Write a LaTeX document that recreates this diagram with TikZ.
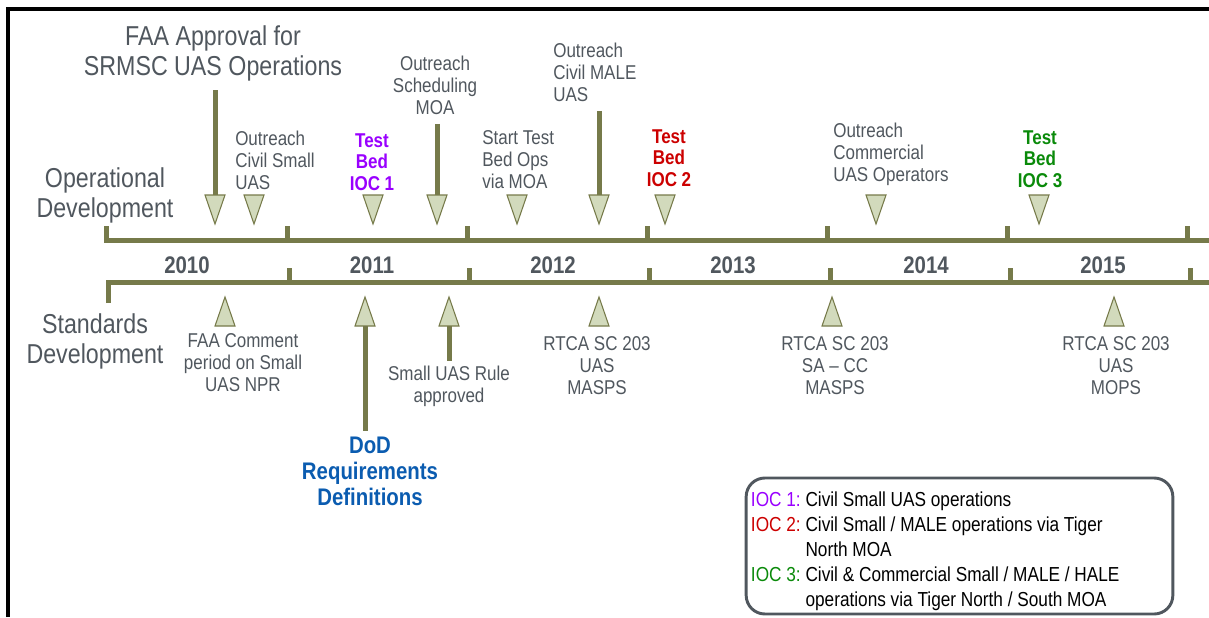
\documentclass[tikz,border=0pt]{standalone}
\usepackage{fontspec}
\setmainfont{Liberation Sans}[FakeStretch=0.85]
\usepackage{xcolor}
\definecolor{lineolive}{HTML}{767A4A}
\definecolor{trigreen}{HTML}{D2DABC}
\definecolor{txtgray}{HTML}{50575E}
\definecolor{iocpurple}{HTML}{9900FF}
\definecolor{iocred}{HTML}{CC0000}
\definecolor{iocgreen}{HTML}{0A8A0A}
\definecolor{dodblue}{HTML}{0B5CB0}
\definecolor{legframe}{HTML}{50575E}
\newcommand{\labfont}{\fontsize{20.5}{22.5}\selectfont}
\newcommand{\evtfont}{\fontsize{15}{16.5}\selectfont}
\newcommand{\iocfont}{\fontsize{15}{16.2}\selectfont\bfseries}
\newcommand{\yrfont}{\fontsize{18}{20}\selectfont\bfseries}
\newcommand{\dodfont}{\fontsize{18}{19.5}\selectfont\bfseries}
\newcommand{\legfont}{\fontsize{15.2}{18.75}\selectfont}

\begin{document}
\begin{tikzpicture}[x=0.75pt, y=-0.75pt,
    axisline/.style={draw=lineolive, line width=3.75pt, line join=miter},
    trifill/.style={draw=lineolive, fill=trigreen, line width=0.8pt},
    stem/.style={draw=lineolive, line width=3.75pt, shorten <=7pt},
    evt/.style={inner sep=0pt, text=txtgray, font=\evtfont, align=center},
    evtleft/.style={evt, anchor=west, align=left},
    biglab/.style={inner sep=0pt, text=txtgray, font=\labfont, align=center},
    ioc/.style={inner sep=0pt, font=\iocfont, align=center},
    pics/dnmark/.style={code={
        \draw[trifill] (-10,-29) -- (10,-29) -- (0,0) -- cycle;
        \coordinate (-base) at (0,-29);}},
    pics/upmark/.style={code={
        \draw[trifill] (-10,29) -- (10,29) -- (0,0) -- cycle;
        \coordinate (-base) at (0,29);}}]
    \useasboundingbox (0,0) rectangle (1209,617);
    % frame
    \draw[line width=3pt] (8,617) -- (8,9) -- (1209,9);

    % the two time lines
    \draw[axisline] (106,226) -- (106,240) -- (1209,240);
    \foreach \tx in {287,467,647,827,1007,1187}
        \draw[axisline] (\tx,240) -- (\tx,226);
    \draw[axisline] (108,303) -- (108,282) -- (1209,282);
    \foreach \tx in {289,469,649,830,1010,1190}
        \draw[axisline] (\tx,282) -- (\tx,268);
    \foreach \yr/\xc in {2010/187,2011/372,2012/553,2013/733,2014/926,2015/1103}
        \node[inner sep=0pt, text=txtgray, font=\yrfont] (y\yr) at (\xc,265) {\yr};

    \node[biglab] (opdev) at (105,195) {Operational\\Development};
    \node[biglab] (stdev) at (95,341) {Standards\\Development};

    % operational events
    \node[biglab] (faa) at (213,53) {FAA Approval for\\SRMSC UAS Operations};
    \node[evtleft] (ocs) at (235,160) {Outreach\\Civil Small\\UAS};
    \node[ioc, text=iocpurple] (ioc1) at (372,162) {Test\\Bed\\IOC 1};
    \node[evt] (osm) at (435,85) {Outreach\\Scheduling\\MOA};
    \node[evtleft] (stb) at (482,160) {Start Test\\Bed Ops\\via MOA};
    \node[evtleft] (ocm) at (553,72) {Outreach\\Civil MALE\\UAS};
    \node[ioc, text=iocred] (ioc2) at (669,158) {Test\\Bed\\IOC 2};
    \node[evtleft] (occ) at (833,154) {Outreach\\Commercial\\UAS Operators};
    \node[ioc, text=iocgreen] (ioc3) at (1040,159) {Test\\Bed\\IOC 3};

    \foreach \mx [count=\i] in {215,254,373,437,517,599,665,876,1039}
        \pic (d\i) at (\mx,224) {dnmark};
    \draw[stem] (faa.south -| d1-base) -- (d1-base);
    \draw[stem] (osm.south -| d4-base) -- (d4-base);
    \draw[stem] (ocm.south -| d6-base) -- (d6-base);

    % standards events
    \foreach \mx [count=\i] in {225,365,449,599,832,1114}
        \pic (u\i) at (\mx,297) {upmark};
    \node[evt] (fcp) at (243,363) {FAA Comment\\period on Small\\UAS NPR};
    \node[inner sep=0pt, text=dodblue, font=\dodfont, align=center] (dod) at (370,471) {DoD\\Requirements\\Definitions};
    \node[evt] (sur) at (449,386) {Small UAS Rule\\approved};
    \node[evt] (rtca1) at (597,366) {RTCA SC 203\\UAS\\MASPS};
    \node[evt] (rtca2) at (835,366) {RTCA SC 203\\SA -- CC\\MASPS};
    \node[evt] (rtca3) at (1116,366) {RTCA SC 203\\UAS\\MOPS};
    \draw[stem, shorten <=0pt, shorten >=4pt] (u2-base) -- (dod.north -| u2-base);
    \draw[stem, shorten <=0pt, shorten >=3pt] (u3-base) -- (sur.north -| u3-base);

    % legend
    \node[draw=legframe, line width=2.2pt, rounded corners=14pt, minimum width=320pt, minimum height=102pt] (legend) at (959.5,546) {};
    \node[anchor=west, inner sep=0pt, font=\legfont] (legtext) at ([xshift=4.5pt, yshift=-4pt]legend.west) {%
        \begin{tabular}{@{}l@{\ }l@{}}
            \textcolor{iocpurple}{IOC 1:} & Civil Small UAS operations\\
            \textcolor{iocred}{IOC 2:} & Civil Small / MALE operations via Tiger\\
            & North MOA\\
            \textcolor{iocgreen}{IOC 3:} & Civil \& Commercial Small / MALE / HALE\\
            & operations via Tiger North / South MOA
        \end{tabular}};
\end{tikzpicture}
\end{document}
